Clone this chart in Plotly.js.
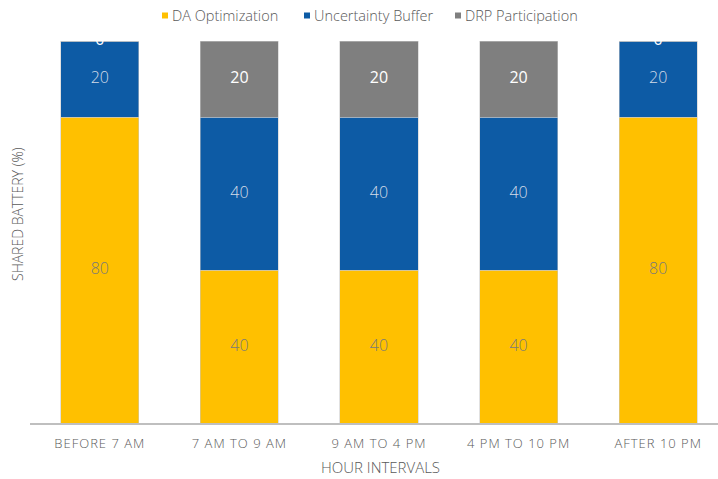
<!DOCTYPE html>
<html>
<head>
<meta charset="utf-8">
<script src="https://cdn.plot.ly/plotly-3.0.1.min.js"></script>
<style>
  html, body { margin: 0; padding: 0; background: #fff; }
  #chart { width: 718px; height: 479px; }
  .xtick text { letter-spacing: 1px; }
</style>
</head>
<body>
<div id="chart"></div>
<script>
// Shared battery allocation by hour interval (stacked, %)
const categories = ['BEFORE 7 AM', '7 AM TO 9 AM', '9 AM TO 4 PM', '4 PM TO 10 PM', 'AFTER 10 PM'];
const seriesNames = ['DA Optimization', 'Uncertainty Buffer', 'DRP Participation'];
const daOptimization = [80, 40, 40, 40, 80];
const uncertaintyBuffer = [20, 40, 40, 40, 20];
const drpParticipation = [0, 20, 20, 20, 0];

const seriesValues = [daOptimization, uncertaintyBuffer, drpParticipation];
const seriesColors = ['#FFC000', '#0D5BA5', '#7F7F7F'];
const labelColors = ['#7a7a7a', '#d4dce8', '#ffffff'];
const labelWeights = [300, 300, 400];

const FONT = '"Segoe UI Light", "Segoe UI", "Open Sans", sans-serif';

// plot-area geometry in pixels, used to place the free-standing texts
const W = 718, H = 479;
const M = { l: 30, r: 0, t: 41, b: 56 };
const plotW = W - M.l - M.r, plotH = H - M.t - M.b;
const px2x = px => (px - M.l) / plotW;
const py2y = py => (H - M.b - py) / plotH;

const traces = [];
const bases = categories.map(() => 0);

seriesValues.forEach((vals, s) => {
  traces.push({
    type: 'bar',
    name: seriesNames[s],
    x: categories,
    y: vals,
    marker: { color: seriesColors[s], line: { color: 'rgba(200,200,200,0.9)', width: 0.6 } },
    showlegend: false,
    hoverinfo: 'x+y+name'
  });
  // value labels centred in each segment
  traces.push({
    type: 'scatter',
    mode: 'text',
    x: categories,
    y: vals.map((v, i) => bases[i] + v / 2),
    text: vals.map(String),
    textposition: 'middle center',
    textfont: { family: FONT, size: 16, color: labelColors[s], weight: labelWeights[s] },
    cliponaxis: true,
    showlegend: false,
    hoverinfo: 'skip'
  });
  vals.forEach((v, i) => { bases[i] += v; });
});

// legend entries: small colour squares plus names
const legendItems = [
  { sq: 162, tx: 170 },
  { sq: 304, tx: 312 },
  { sq: 455, tx: 463 }
];
const shapes = [];
const annotations = [];
seriesNames.forEach((name, s) => {
  const it = legendItems[s];
  shapes.push({
    type: 'rect', xref: 'paper', yref: 'paper',
    x0: px2x(it.sq), x1: px2x(it.sq + 6),
    y0: py2y(18.5), y1: py2y(12.5),
    fillcolor: seriesColors[s], line: { width: 0 }
  });
  annotations.push({
    xref: 'paper', yref: 'paper',
    x: px2x(it.tx), y: py2y(15.5),
    xanchor: 'left', yanchor: 'middle',
    text: name, showarrow: false,
    font: { family: FONT, size: 14.5, color: '#595959', weight: 300 }
  });
});

// axis titles
annotations.push({
  xref: 'paper', yref: 'paper',
  x: px2x(380), y: py2y(467),
  xanchor: 'center', yanchor: 'middle',
  text: 'HOUR INTERVALS', showarrow: false,
  font: { family: FONT, size: 15, color: '#595959', weight: 300 }
});
annotations.push({
  xref: 'paper', yref: 'paper',
  x: px2x(17), y: py2y(214),
  xanchor: 'center', yanchor: 'middle',
  textangle: -90,
  text: 'SHARED BATTERY (%)', showarrow: false,
  font: { family: FONT, size: 14, color: '#595959', weight: 300 }
});

const layout = {
  width: W, height: H,
  margin: M,
  paper_bgcolor: '#ffffff',
  plot_bgcolor: '#ffffff',
  barmode: 'stack',
  bargap: 0.44,
  showlegend: false,
  xaxis: {
    type: 'category',
    range: [-0.5, -0.5 + plotW / 139.6],
    showline: true, linecolor: '#BFBFBF', linewidth: 1.5,
    showgrid: false, zeroline: false,
    ticks: '',
    ticklabelstandoff: 8,
    tickfont: { family: FONT, size: 13, color: '#595959', weight: 300 },
    fixedrange: true
  },
  yaxis: {
    range: [0, 100],
    visible: false,
    showgrid: false, zeroline: false,
    fixedrange: true
  },
  shapes: shapes,
  annotations: annotations
};

Plotly.newPlot('chart', traces, layout, { displayModeBar: false, staticPlot: true });
</script>
</body>
</html>
